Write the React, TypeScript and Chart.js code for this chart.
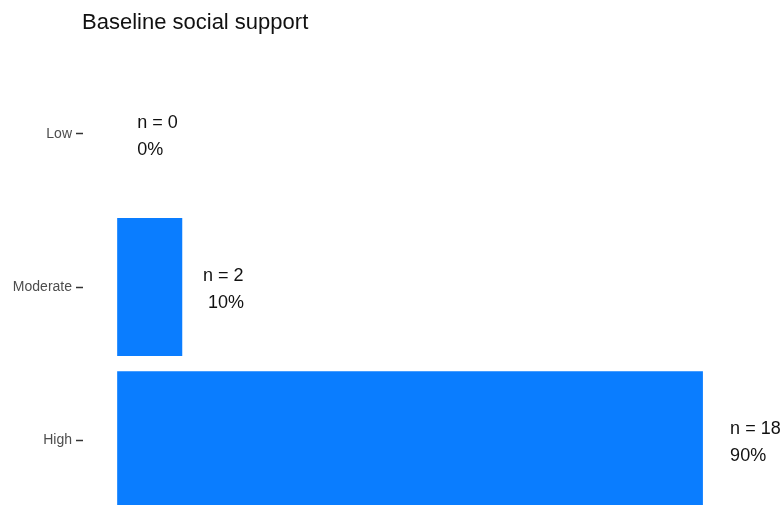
import React, { useEffect, useRef } from "react";
import { Chart, registerables } from "chart.js";

Chart.register(...registerables);

const categories = ["Low", "Moderate", "High"];
const counts = [0, 2, 18];
const countLabels = ["n = 0", "n = 2", "n = 18"];
const percentLabels = ["0%", " 10%", "90%"];
const titleText = "Baseline social support";

const FONT = "'Liberation Sans', Arial, Helvetica, sans-serif";
const BAR_COLOR = "#0A7DFF";

const labelPlugin = {
  id: "customLabels",
  afterDraw(chart: any) {
    const ctx = chart.ctx;
    const xs = chart.scales.x;
    const ys = chart.scales.y;
    ctx.save();
    // title
    ctx.fillStyle = "#111111";
    ctx.font = `22px ${FONT}`;
    ctx.textAlign = "left";
    ctx.textBaseline = "alphabetic";
    ctx.fillText(titleText, 82, 29);
    // data labels
    ctx.font = `18px ${FONT}`;
    ctx.fillStyle = "#111111";
    counts.forEach((v, i) => {
      const x = xs.getPixelForValue(v) + 20 + v * 0.4;
      const yc = ys.getPixelForValue(i);
      ctx.fillText(countLabels[i], x, yc - 6);
      ctx.fillText(percentLabels[i], x, yc + 21);
    });
    ctx.restore();
  },
};

export default function App() {
  const ref = useRef<HTMLCanvasElement | null>(null);

  useEffect(() => {
    if (!ref.current) return;
    const chart = new Chart(ref.current, {
      type: "bar",
      data: {
        labels: categories,
        datasets: [
          {
            data: counts,
            backgroundColor: BAR_COLOR,
            borderWidth: 0,
            barPercentage: 0.9,
            categoryPercentage: 1,
          },
        ],
      },
      options: {
        indexAxis: "y",
        responsive: false,
        animation: false,
        layout: { padding: { top: 57, bottom: 13, left: 0, right: 14 } },
        plugins: {
          legend: { display: false },
          tooltip: { enabled: false },
          title: { display: false },
        },
        scales: {
          x: {
            display: false,
            min: -1.05,
            max: 20,
          },
          y: {
            afterFit: (scale: any) => {
              scale.width = 83;
            },
            border: { display: false },
            grid: {
              offset: false,
              drawOnChartArea: false,
              drawTicks: true,
              tickLength: 7,
              tickColor: "#333333",
              tickWidth: 1.5,
            },
            ticks: {
              color: "#4D4D4D",
              padding: 4,
              font: { family: FONT, size: 14 },
            },
          },
        },
      },
      plugins: [labelPlugin],
    });
    return () => chart.destroy();
  }, []);

  return (
    <div
      style={{
        position: "fixed",
        left: 0,
        top: 0,
        width: 782,
        height: 505,
        overflow: "hidden",
        background: "#ffffff",
      }}
    >
      <canvas ref={ref} width={782} height={530} style={{ display: "block", width: 782, height: 530 }} />
    </div>
  );
}
